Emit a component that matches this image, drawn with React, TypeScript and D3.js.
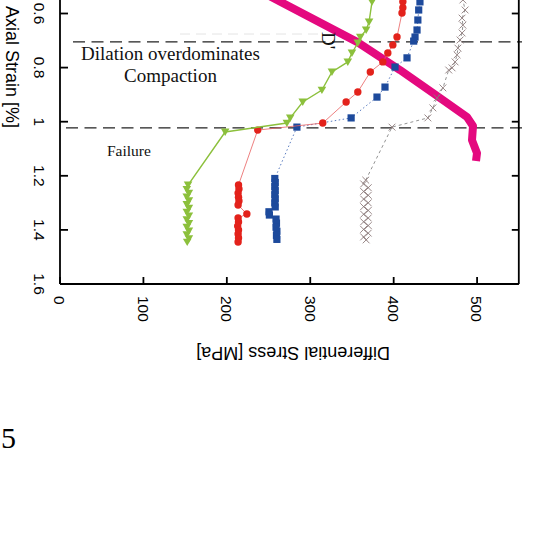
import React from "react";
import * as d3 from "d3";

const W = 540;
const H = 551;

// Each series: [differential stress (MPa), axial strain (%)]
const loadCurve: [number, number][] = [
  [203.8, 0.458], [260.1, 0.55], [356, 0.705], [407.6, 0.809], [447.1, 0.894],
  [487.9, 0.983], [495.1, 1.016], [493.9, 1.068], [499.9, 1.116], [498.7, 1.145],
];

const greenSeries: [number, number][] = [
  [381, 0.513], [374, 0.557], [370.5, 0.631], [367, 0.661], [360, 0.687], [357, 0.709],
  [350, 0.746], [345, 0.779], [326, 0.816], [314, 0.883], [291, 0.927], [276, 0.986],
  [272, 1.005], [198, 1.038],
  [153.5, 1.234], [152, 1.25], [154.5, 1.264], [152, 1.278], [154.5, 1.292], [152, 1.306],
  [154.5, 1.32], [152, 1.334], [154.5, 1.348], [152, 1.362], [154.5, 1.376], [152, 1.39],
  [154.5, 1.404], [152, 1.418], [154.5, 1.432], [152.5, 1.445],
];

const redSeries: [number, number][] = [
  [412, 0.5], [411, 0.557], [411, 0.579], [410, 0.598], [404, 0.687], [399, 0.716],
  [393, 0.746], [387, 0.779], [372, 0.816], [357, 0.89], [343, 0.927], [315, 1.005],
  [237, 1.031],
  [214, 1.234], [214.5, 1.249], [213.5, 1.264], [214, 1.279], [214.5, 1.293], [213.5, 1.308],
  [224, 1.341],
  [213.5, 1.356], [214, 1.371], [213, 1.386], [214, 1.4], [213.5, 1.415], [214, 1.43], [213.5, 1.445],
];

const blueSeries: [number, number][] = [
  [432, 0.5], [431.5, 0.557], [430, 0.587], [429, 0.624], [428, 0.661], [425.6, 0.687],
  [424, 0.702], [416, 0.764], [401.6, 0.798], [389.6, 0.872], [380, 0.909], [349, 0.986],
  [284, 1.02],
  [257.5, 1.21], [258, 1.225], [257.5, 1.24], [258, 1.255], [257.5, 1.27], [258, 1.285],
  [257.5, 1.3], [258, 1.315], [250.5, 1.333], [251, 1.345], [259, 1.36], [259.5, 1.375],
  [259, 1.39], [260, 1.405], [259.5, 1.42], [260, 1.435],
];

const greySeries: [number, number][] = [
  [484, 0.52], [483, 0.55], [485.6, 0.587], [482, 0.617], [483, 0.643], [482, 0.672],
  [479.6, 0.698], [477, 0.728], [476, 0.753], [473.6, 0.779], [470, 0.801], [466, 0.809],
  [459, 0.875], [452, 0.912], [447, 0.949], [441, 0.986], [398, 1.02],
  [366.5, 1.216], [364, 1.23], [369.5, 1.244], [364, 1.258], [369.5, 1.272], [364, 1.286],
  [369.5, 1.3], [364, 1.314], [369.5, 1.328], [364, 1.342], [369.5, 1.356], [364, 1.37],
  [369.5, 1.384], [364, 1.398], [369.5, 1.412], [364, 1.426], [367, 1.437],
];

// Strain thresholds marked by dashed lines
const thresholds = [0.705, 1.023];

const xTicks = [0, 100, 200, 300, 400, 500];
const yTicks = [0.6, 0.8, 1, 1.2, 1.4, 1.6];
const yTickLabels = ["0.6", "0.8", "1", "1.2", "1.4", "1.6"];

const x = d3.scaleLinear().domain([0, 550]).range([60, 518.8]);
const y = d3.scaleLinear().domain([0, 1.6]).range([-148.8, 284]);

const line = d3
  .line<[number, number]>()
  .x((d) => x(d[0]))
  .y((d) => y(d[1]));

const SANS = "'Liberation Sans', Arial, sans-serif";
const SERIF = "'Liberation Serif', 'Times New Roman', serif";

const triPath = "M0,4L-4.3,-3.4L4.3,-3.4Z";

export default function App() {
  const left = x(0);
  const right = x(550);
  const bottom = y(1.6);
  return (
    <svg
      width={W}
      height={H}
      style={{ position: "absolute", left: 0, top: 0, background: "#fff" }}
    >
      <rect x={0} y={0} width={W} height={H} fill="#fff" />

      {/* threshold lines */}
      <line x1={180} x2={320} y1={34} y2={34} stroke="#e4e4e4" strokeWidth={1} strokeDasharray="10,6" />
      {thresholds.map((t, i) => (
        <line
          key={i}
          x1={i === 0 ? 73 : 66}
          x2={522}
          y1={y(t)}
          y2={y(t)}
          stroke="#222"
          strokeWidth={1.2}
          strokeDasharray="12,6.5"
        />
      ))}

      {/* loading curve */}
      <path
        d={line(loadCurve) ?? ""}
        fill="none"
        stroke="#e4097f"
        strokeWidth={8}
        strokeLinejoin="round"
      />

      {/* grey series */}
      <path d={line(greySeries) ?? ""} fill="none" stroke="#777" strokeWidth={0.8} strokeDasharray="3,3" />
      {greySeries.map((d, i) => (
        <path
          key={i}
          transform={`translate(${x(d[0])},${y(d[1])})`}
          d="M-3.4,-3.4L3.4,3.4M-3.4,3.4L3.4,-3.4"
          stroke="#8d7b7b"
          strokeWidth={0.9}
          fill="none"
        />
      ))}

      {/* blue series */}
      <path d={line(blueSeries) ?? ""} fill="none" stroke="#5a7cc0" strokeWidth={1} strokeDasharray="1.5,2.5" />
      {blueSeries.map((d, i) => (
        <rect key={i} x={x(d[0]) - 3.6} y={y(d[1]) - 3.6} width={7.2} height={7.2} fill="#1d4a9c" />
      ))}

      {/* red series */}
      <path d={line(redSeries) ?? ""} fill="none" stroke="#e96060" strokeWidth={0.8} />
      {redSeries.map((d, i) => (
        <circle key={i} cx={x(d[0])} cy={y(d[1])} r={3.7} fill="#e3221b" />
      ))}

      {/* green series */}
      <path d={line(greenSeries) ?? ""} fill="none" stroke="#8cc03c" strokeWidth={1.4} />
      {greenSeries.map((d, i) => (
        <path key={i} transform={`translate(${x(d[0])},${y(d[1])})`} d={triPath} fill="#8cc03c" />
      ))}

      {/* annotations */}
      <text x={81} y={60} fontFamily={SERIF} fontSize={19} fill="#111">
        Dilation overdominates
      </text>
      <text x={124} y={82} fontFamily={SERIF} fontSize={19} fill="#111">
        Compaction
      </text>
      <text x={107} y={156} fontFamily={SERIF} fontSize={15.5} fill="#111">
        Failure
      </text>
      <text transform="translate(322,32) rotate(90)" fontFamily={SERIF} fontSize={19} fill="#111">
        D'
      </text>

      {/* axes frame */}
      <g stroke="#000" strokeWidth={1.8} fill="none">
        <line x1={left} x2={left} y1={-2} y2={bottom} />
        <line x1={right} x2={right} y1={-2} y2={bottom} />
        <line x1={left} x2={right} y1={bottom} y2={bottom} />
        {xTicks.map((t) => (
          <line key={`xt${t}`} x1={x(t)} x2={x(t)} y1={bottom} y2={bottom - 7} />
        ))}
        {yTicks.map((t) => (
          <line key={`yl${t}`} x1={left} x2={left + 8} y1={y(t)} y2={y(t)} />
        ))}
        {yTicks.map((t) => (
          <line key={`yr${t}`} x1={right} x2={right - 7} y1={y(t)} y2={y(t)} />
        ))}
      </g>

      {/* tick labels */}
      {xTicks.map((t) => (
        <text
          key={`xl${t}`}
          transform={`translate(${x(t) - 5.6},296) rotate(90)`}
          fontFamily={SANS}
          fontSize={15.5}
          fill="#000"
        >
          {String(t)}
        </text>
      ))}
      {yTicks.map((t, i) => (
        <text
          key={`ylab${t}`}
          transform={`translate(33.5,${y(t)}) rotate(90)`}
          textAnchor="middle"
          fontFamily={SANS}
          fontSize={15.5}
          fill="#000"
        >
          {yTickLabels[i]}
        </text>
      ))}

      {/* axis titles */}
      <text
        transform="translate(6,67) rotate(90)"
        textAnchor="middle"
        fontFamily={SANS}
        fontSize={18}
        fill="#000"
      >
        Axial Strain [%]
      </text>
      <text
        transform="translate(293,347) rotate(180)"
        textAnchor="middle"
        fontFamily={SANS}
        fontSize={18}
        fill="#000"
      >
        Differential Stress [MPa]
      </text>

      <text x={1} y={448} fontFamily={SERIF} fontSize={30} fill="#000">
        5
      </text>
    </svg>
  );
}
